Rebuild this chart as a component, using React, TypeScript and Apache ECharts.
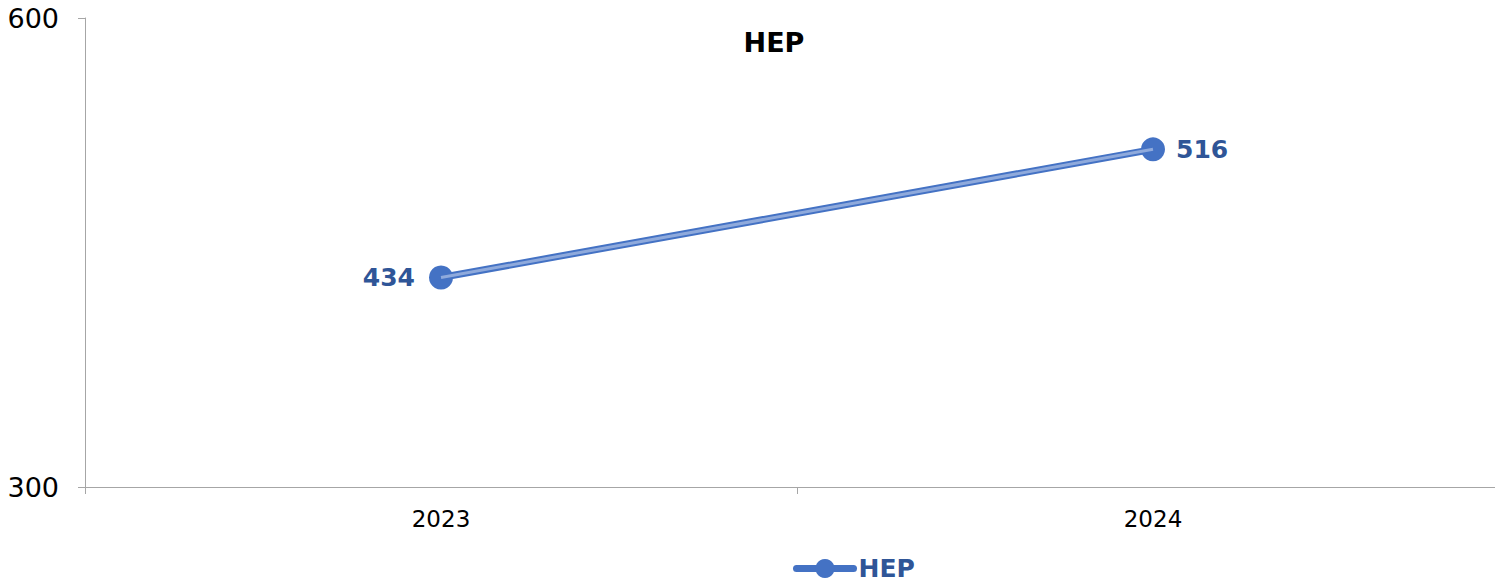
import React, { useEffect, useRef } from "react";
import * as echarts from "echarts";

const categories = ["2023", "2024"];
const hepValues = [434, 516];
const labelSides = ["left", "right"];
const yTicks = { min: 300, max: 600, interval: 300 };

const FONT = "'DejaVu Sans', sans-serif";

export default function App() {
  const ref = useRef<HTMLDivElement>(null);
  useEffect(() => {
    if (!ref.current) return;
    const chart = echarts.init(ref.current, undefined, { renderer: "svg" });
    chart.setOption({
      animation: false,
      title: {
        text: "HEP",
        left: 769,
        textAlign: "center",
        top: 24,
        textStyle: { fontFamily: FONT, fontWeight: "bold", fontSize: 27, color: "#000" },
      },
      legend: {
        data: ["HEP"],
        left: 788,
        top: 551,
        itemWidth: 57,
        itemHeight: 24,
        itemGap: 3,
        lineStyle: { width: 7, cap: "round" },
        textStyle: { fontFamily: FONT, fontWeight: "bold", fontSize: 25, color: "#2F5597", lineHeight: 24 },
      },
      grid: { left: 85, right: 0, top: 18, bottom: 97, containLabel: false },
      xAxis: {
        type: "category",
        data: categories,
        boundaryGap: true,
        axisLine: { lineStyle: { color: "#A6A6A6", width: 1 } },
        axisTick: { show: true, length: 7, lineStyle: { color: "#A6A6A6" } },
        axisLabel: { fontFamily: FONT, fontSize: 23, color: "#000", margin: 20 },
      },
      yAxis: {
        type: "value",
        min: yTicks.min,
        max: yTicks.max,
        interval: yTicks.interval,
        axisLine: { show: true, lineStyle: { color: "#A6A6A6", width: 1 } },
        axisTick: { show: true, length: 7, lineStyle: { color: "#A6A6A6" } },
        splitLine: { show: false },
        axisLabel: { fontFamily: FONT, fontSize: 27, color: "#000", margin: 26 },
      },
      series: [
        {
          name: "HEP",
          type: "line",
          data: hepValues.map((v, i) => ({
            value: v,
            label: { position: labelSides[i], distance: i === 0 ? 14 : 11 },
          })),
          symbol: "circle",
          symbolSize: 24,
          itemStyle: { color: "#4472C4" },
          lineStyle: { color: "#4472C4", width: 7 },
          label: {
            show: true,
            fontFamily: FONT,
            fontWeight: "bold",
            fontSize: 25,
            color: "#2F5597",
          },
          z: 2,
        },
        {
          name: "HEP-inner",
          type: "line",
          data: hepValues,
          symbol: "none",
          silent: true,
          lineStyle: { color: "#8FAADC", width: 3 },
          z: 3,
        },
      ],
    });
    return () => chart.dispose();
  }, []);
  return (
    <div
      style={{
        position: "absolute",
        left: 0,
        top: 0,
        width: 1495,
        height: 584,
        overflow: "hidden",
      }}
    >
      <div ref={ref} style={{ width: 1509, height: 584 }} />
    </div>
  );
}
